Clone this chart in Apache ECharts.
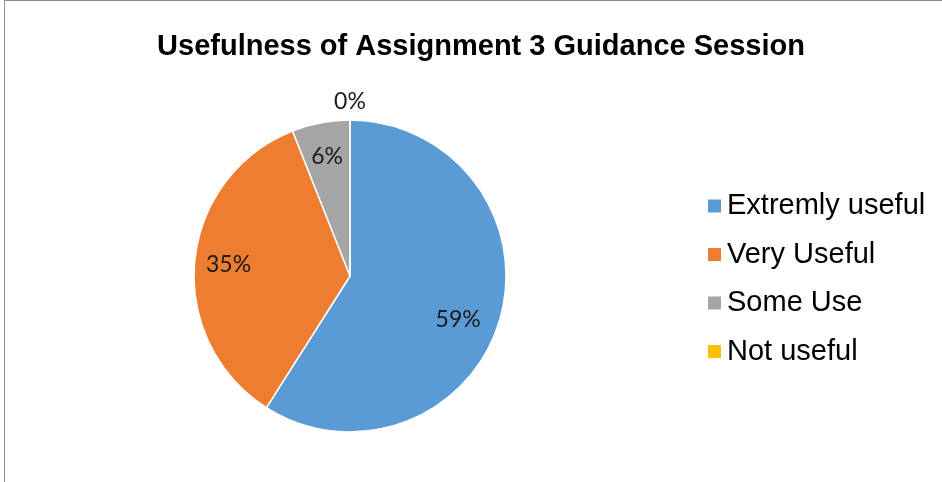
<!DOCTYPE html>
<html>
<head>
<meta charset="utf-8">
<script src="https://cdn.jsdelivr.net/npm/echarts@6/dist/echarts.min.js"></script>
<style>
  html, body { margin: 0; padding: 0; background: #fff; }
  #frame {
    position: absolute; left: 4px; top: 0; width: 938px; height: 482px;
    border-left: 1px solid #8c8c8c; border-top: 1px solid #8c8c8c;
    box-sizing: border-box;
  }
  #chart { position: absolute; left: 0; top: 0; width: 942px; height: 482px; }
</style>
</head>
<body>
<div id="frame"></div>
<div id="chart"></div>
<script>
  // data
  var categories = ['Extremly useful', 'Very Useful', 'Some Use', 'Not useful'];
  var values = [59, 35, 6, 0];
  var colors = ['#5B9BD5', '#ED7D31', '#A5A5A5', '#FFC000'];

  var labelFont = {
    fontFamily: 'Lato',
    fontSize: 23,
    color: '#1a1a1a'
  };

  var center = [350, 276];

  // the slices themselves
  var pieData = categories.map(function (name, i) {
    return { name: name, value: values[i] };
  });

  // transparent copy, only used to place the percentage labels further out
  // (the big slice's label sits a bit lower in the original, nudge it)
  var labelData = categories.map(function (name, i) {
    var lbl = { show: values[i] > 0 };
    if (i === 0) lbl.offset = [-9, 10];
    return { name: name, value: values[i], label: lbl };
  });

  // zero slice gets its label above the pie
  var zeroData = categories.map(function (name, i) {
    return {
      name: name,
      value: values[i],
      label: { show: values[i] === 0 }
    };
  });

  function pctFormatter(p) {
    return Math.round(p.percent) + '%';
  }

  var chart = echarts.init(document.getElementById('chart'));
  var option = {
    animation: false,
    color: colors,
    title: {
      text: 'Usefulness of Assignment 3 Guidance Session',
      left: 481,
      top: 32,
      padding: 0,
      textAlign: 'center',
      textStyle: {
        fontFamily: 'Liberation Sans',
        fontWeight: 'bold',
        fontSize: 29,
        color: '#000'
      }
    },
    legend: {
      orient: 'vertical',
      left: 706,
      top: 191,
      padding: 0,
      icon: 'rect',
      itemWidth: 15,
      itemHeight: 15,
      itemGap: 18.5,
      data: categories,
      textStyle: {
        fontFamily: 'Liberation Sans',
        fontSize: 29,
        lineHeight: 30,
        color: '#000'
      }
    },
    series: [
      {
        type: 'pie',
        center: center,
        radius: 156,
        startAngle: 90,
        clockwise: true,
        silent: true,
        label: { show: false },
        labelLine: { show: false },
        itemStyle: { borderColor: '#fff', borderWidth: 1.5 },
        data: pieData
      },
      {
        type: 'pie',
        center: center,
        radius: 238,
        startAngle: 90,
        clockwise: true,
        silent: true,
        itemStyle: { color: 'transparent', borderWidth: 0 },
        label: Object.assign({ position: 'inside', formatter: pctFormatter }, labelFont),
        labelLine: { show: false },
        emphasis: { disabled: true },
        data: labelData
      },
      {
        type: 'pie',
        center: center,
        radius: 342,
        startAngle: 90,
        clockwise: true,
        silent: true,
        itemStyle: { color: 'transparent', borderWidth: 0 },
        label: Object.assign({ position: 'inside', formatter: pctFormatter }, labelFont),
        labelLine: { show: false },
        emphasis: { disabled: true },
        data: zeroData
      }
    ]
  };
  chart.setOption(option);
</script>
</body>
</html>
